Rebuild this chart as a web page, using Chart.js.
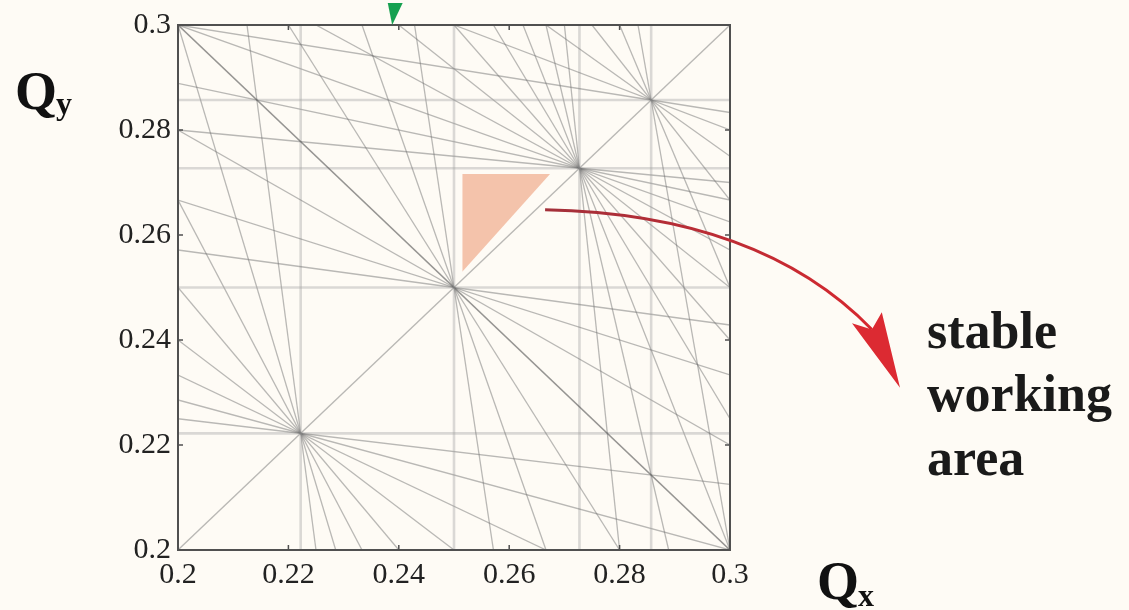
<!DOCTYPE html>
<html>
<head>
<meta charset="utf-8">
<title>Tune diagram</title>
<script src="https://cdn.jsdelivr.net/npm/chart.js@4/dist/chart.umd.min.js"></script>
<style>
  html, body { margin: 0; padding: 0; background: #fefbf5; }
  canvas { display: block; }
</style>
</head>
<body>
<canvas id="tuneChart" width="1129" height="610"></canvas>
<script>
// tune range and tick labels
const qMin = 0.2;
const qMax = 0.3;
const tickValues = [0.2, 0.22, 0.24, 0.26, 0.28, 0.3];

// resonance lines m*Qx + n*Qy = p, grouped by order (duplicates left out)
const order4 = [[4, 0, 1], [3, 1, 1], [2, 2, 1], [1, 3, 1], [0, 4, 1]];
const order7 = [[7, 0, 2], [6, 1, 2], [5, 2, 2], [4, 3, 2], [3, 4, 2], [2, 5, 2], [1, 6, 2], [0, 7, 2]];
const order8 = [[7, 1, 2], [5, 3, 2], [3, 5, 2], [1, 7, 2]];
const order9 = [[9, 0, 2], [8, 1, 2], [7, 2, 2], [6, 3, 2], [5, 4, 2], [4, 5, 2], [3, 6, 2], [2, 7, 2], [1, 8, 2], [0, 9, 2]];
const order11 = [[11, 0, 3], [10, 1, 3], [9, 2, 3], [8, 3, 3], [7, 4, 3], [6, 5, 3], [5, 6, 3], [4, 7, 3], [3, 8, 3], [2, 9, 3], [1, 10, 3], [0, 11, 3]];
const coupling = [[1, -1, 0]];

// stable working area (shaded triangle)
const stableTopQx = [0.2515, 0.2674];
const stableTopQy = [0.2716, 0.2716];
const stableLowQx = [0.2515, 0.2674];
const stableLowQy = [0.2530, 0.2716];

// annotation arrow (start, control, end) and its head, in tune units
const arrowQx = [0.2665, 0.3054, 0.3257];
const arrowQy = [0.2648, 0.2640, 0.2420];
const headQx = [0.3308, 0.3275, 0.3257, 0.3221];
const headQy = [0.2309, 0.2453, 0.2420, 0.2432];

// green pointer cut off at the top
const pointerQx = [0.2380, 0.2407, 0.2388];
const pointerQy = [0.3042, 0.3042, 0.3000];

// clip m*x + n*y = p to the square [qMin, qMax]
function clipResonance(m, n, p) {
    const pts = [];
    const eps = 1e-9;
    const inside = v => v >= qMin - eps && v <= qMax + eps;
    if (n !== 0) {
        [qMin, qMax].forEach(x => {
            const y = (p - m * x) / n;
            if (inside(y)) pts.push({ x: x, y: y });
        });
    }
    if (m !== 0) {
        [qMin, qMax].forEach(y => {
            const x = (p - n * y) / m;
            if (inside(x)) pts.push({ x: x, y: y });
        });
    }
    const uniq = [];
    pts.forEach(pt => {
        if (!uniq.some(u => Math.abs(u.x - pt.x) < 1e-7 && Math.abs(u.y - pt.y) < 1e-7)) uniq.push(pt);
    });
    if (uniq.length < 2) return null;
    uniq.sort((a, b) => a.x - b.x || a.y - b.y);
    return uniq.slice(0, 2);
}

function lineStyle(m, n, p) {
    if (m === 0 || n === 0) return { color: 'rgba(160,160,160,0.38)', width: 2.6 };
    if (m === n) return { color: 'rgba(85,85,85,0.62)', width: 1.6 };
    return { color: 'rgba(110,110,110,0.48)', width: 1.3 };
}

const datasets = [];

// shaded stable area: fill between the top edge and the hypotenuse
datasets.push({
    data: stableTopQx.map((x, i) => ({ x: x, y: stableTopQy[i] })),
    borderWidth: 0,
    pointRadius: 0,
    fill: false
});
datasets.push({
    data: stableLowQx.map((x, i) => ({ x: x, y: stableLowQy[i] })),
    borderWidth: 0,
    pointRadius: 0,
    backgroundColor: '#f4c3ab',
    fill: '-1'
});

[order4, order7, order8, order9, order11, coupling].forEach(group => {
    group.forEach(([m, n, p]) => {
        const seg = clipResonance(m, n, p);
        if (!seg) return;
        const st = lineStyle(m, n, p);
        datasets.push({
            data: seg,
            borderColor: st.color,
            borderWidth: st.width,
            pointRadius: 0,
            fill: false
        });
    });
});

const serif = "'Liberation Serif', 'Times New Roman', serif";

const decorations = {
    id: 'decorations',
    afterDatasetsDraw(chart) {
        const { ctx, chartArea: a, scales } = chart;
        const sx = v => scales.x.getPixelForValue(v);
        const sy = v => scales.y.getPixelForValue(v);
        ctx.save();

        // frame
        ctx.strokeStyle = '#505050';
        ctx.lineWidth = 2;
        ctx.strokeRect(a.left, a.top, a.right - a.left, a.bottom - a.top);

        // inward tick marks on all four sides
        ctx.lineWidth = 1.5;
        ctx.beginPath();
        tickValues.forEach(v => {
            const px = sx(v), py = sy(v);
            ctx.moveTo(px, a.bottom); ctx.lineTo(px, a.bottom - 5);
            ctx.moveTo(px, a.top); ctx.lineTo(px, a.top + 5);
            ctx.moveTo(a.left, py); ctx.lineTo(a.left + 5, py);
            ctx.moveTo(a.right, py); ctx.lineTo(a.right - 5, py);
        });
        ctx.stroke();

        // green pointer
        ctx.fillStyle = '#16a050';
        ctx.beginPath();
        pointerQx.forEach((q, i) => {
            if (i === 0) ctx.moveTo(sx(q), sy(pointerQy[i]));
            else ctx.lineTo(sx(q), sy(pointerQy[i]));
        });
        ctx.closePath();
        ctx.fill();

        // red curved arrow
        const x0 = sx(arrowQx[0]), y0 = sy(arrowQy[0]);
        const x2 = sx(arrowQx[2]), y2 = sy(arrowQy[2]);
        const grad = ctx.createLinearGradient(x0, y0, x2, y2);
        grad.addColorStop(0, '#a3303a');
        grad.addColorStop(1, '#d6282f');
        ctx.strokeStyle = grad;
        ctx.lineWidth = 3;
        ctx.beginPath();
        ctx.moveTo(x0, y0);
        ctx.quadraticCurveTo(sx(arrowQx[1]), sy(arrowQy[1]), x2, y2);
        ctx.stroke();
        ctx.fillStyle = '#dc2a32';
        ctx.beginPath();
        headQx.forEach((q, i) => {
            if (i === 0) ctx.moveTo(sx(q), sy(headQy[i]));
            else ctx.lineTo(sx(q), sy(headQy[i]));
        });
        ctx.closePath();
        ctx.fill();

        // axis names
        ctx.fillStyle = '#111';
        ctx.textBaseline = 'alphabetic';
        ctx.textAlign = 'left';
        ctx.font = 'bold 54px ' + serif;
        ctx.fillText('Q', a.left - 163, a.top + 84);
        ctx.fillText('Q', a.right + 87, a.bottom + 49);
        ctx.font = 'bold 32px ' + serif;
        ctx.fillText('y', a.left - 122, a.top + 89);
        ctx.fillText('x', a.right + 128, a.bottom + 56);

        // side note
        ctx.fillStyle = '#1a1a1a';
        ctx.font = 'bold 52px ' + serif;
        ctx.fillText('stable', a.right + 197, a.top + 323);
        ctx.fillText('working', a.right + 197, a.top + 386);
        ctx.fillText('area', a.right + 197, a.top + 450);

        ctx.restore();
    }
};

const tickFont = { family: serif, size: 30 };
const fmt = v => String(+Number(v).toFixed(2));

new Chart(document.getElementById('tuneChart'), {
    type: 'line',
    data: { datasets: datasets },
    options: {
        responsive: false,
        animation: false,
        devicePixelRatio: 1,
        layout: { padding: { top: 22, right: 399, left: 0, bottom: 0 } },
        elements: { line: { tension: 0 }, point: { radius: 0 } },
        plugins: { legend: { display: false }, tooltip: { enabled: false } },
        scales: {
            x: {
                type: 'linear',
                min: qMin,
                max: qMax,
                afterFit: s => { s.height = 60; },
                afterBuildTicks: s => { s.ticks = tickValues.map(v => ({ value: v })); },
                grid: { display: false, drawTicks: false },
                border: { display: false },
                ticks: { font: tickFont, color: '#222', padding: 7, maxRotation: 0, callback: fmt }
            },
            y: {
                type: 'linear',
                min: qMin,
                max: qMax,
                afterFit: s => { s.width = 178; },
                afterBuildTicks: s => { s.ticks = tickValues.map(v => ({ value: v })); },
                grid: { display: false, drawTicks: false },
                border: { display: false },
                ticks: { font: tickFont, color: '#222', padding: 7, callback: fmt }
            }
        }
    },
    plugins: [decorations]
});
</script>
</body>
</html>
